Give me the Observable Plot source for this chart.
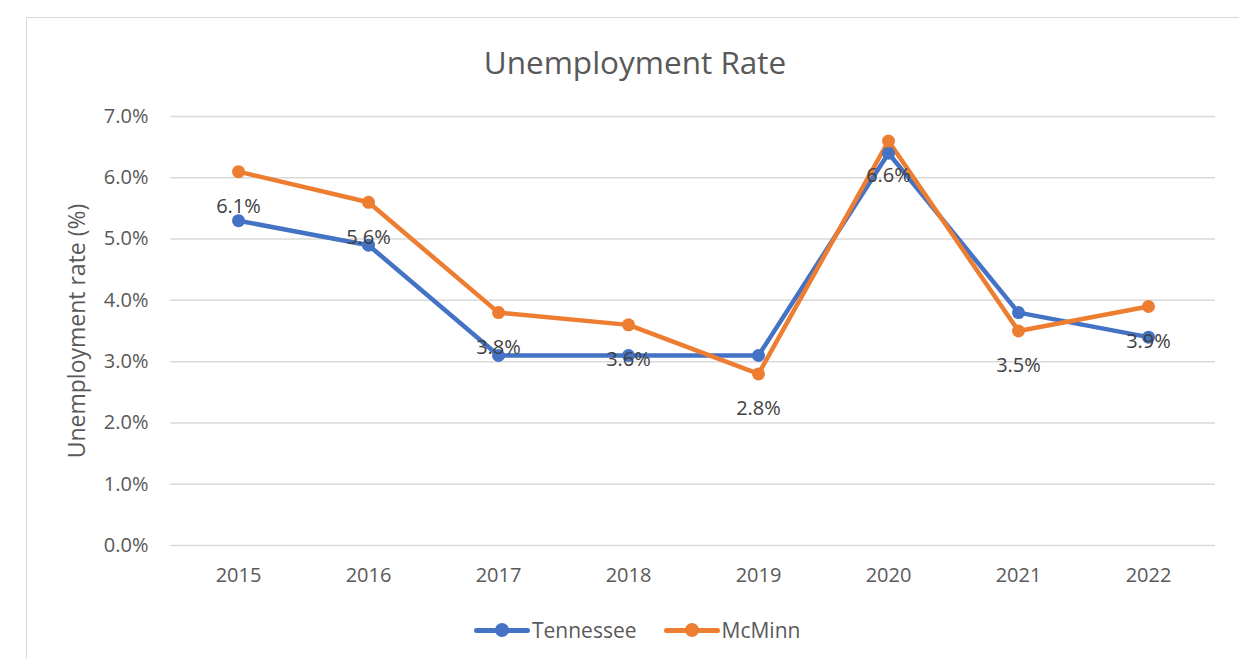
<!DOCTYPE html>
<html>
<head>
<meta charset="utf-8">
<script src="https://cdn.jsdelivr.net/npm/d3@7"></script>
<script src="https://cdn.jsdelivr.net/npm/@observablehq/plot@0.6"></script>
<style>
  body { margin: 0; background: #fff; }
  #wrap { position: relative; width: 1239px; height: 659px; overflow: hidden; font-family: "Open Sans", sans-serif; }
  #frame { position: absolute; left: 26px; top: 17px; width: 1300px; height: 700px; border: 1.5px solid #d9d9d9; box-sizing: border-box; }
  #title { position: absolute; left: 0; width: 1270px; top: 41px; text-align: center; font-size: 31.5px; line-height: 42px; color: #595959; }
  #chart { position: absolute; left: 0; top: 0; }
  #legend { position: absolute; top: 616px; left: 474px; display: flex; align-items: center; font-size: 21px; line-height: 28px; color: #595959; }
  .item { display: flex; align-items: center; margin-right: 27px; }
  .sw { position: relative; width: 56px; height: 14px; margin-right: 2px; }
  .sw .ln { position: absolute; left: 0; right: 0; top: 5px; height: 5px; border-radius: 3px; }
  .sw .dt { position: absolute; left: 21px; top: 0; width: 14px; height: 14px; border-radius: 50%; }
</style>
</head>
<body>
<div id="wrap">
  <div id="frame"></div>
  <div id="chart"></div>
  <div id="title">Unemployment Rate</div>
  <div id="legend"></div>
</div>
<script>
const years = ["2015", "2016", "2017", "2018", "2019", "2020", "2021", "2022"];
const tennessee = [5.3, 4.9, 3.1, 3.1, 3.1, 6.4, 3.8, 3.4];
const mcminn = [6.1, 5.6, 3.8, 3.6, 2.8, 6.6, 3.5, 3.9];
const seriesNames = ["Tennessee", "McMinn"];
const colors = ["#4472C4", "#ED7D31"];
const yTicks = [0, 1, 2, 3, 4, 5, 6, 7];

const data = [];
years.forEach((y, i) => {
  data.push({year: y, value: tennessee[i] / 100, series: "Tennessee"});
  data.push({year: y, value: mcminn[i] / 100, series: "McMinn"});
});
const mc = data.filter(d => d.series === "McMinn");

const plot = Plot.plot({
  width: 1239,
  height: 659,
  marginLeft: 170,
  marginRight: 24,
  marginTop: 116,
  marginBottom: 114,
  style: {fontFamily: "'Open Sans', sans-serif", fontSize: "20px", color: "#595959", background: "transparent"},
  x: {type: "point", domain: years, padding: 0.5, label: null},
  y: {domain: [0, 0.07], label: null},
  color: {domain: seriesNames, range: colors},
  marks: [
    Plot.gridY(yTicks.map(t => t / 100), {stroke: "#d9d9d9", strokeOpacity: 1, strokeWidth: 1.5}),
    Plot.line(data, {x: "year", y: "value", z: "series", stroke: "series", strokeWidth: 4.5, strokeLinejoin: "round", strokeLinecap: "round"}),
    Plot.dot(data, {x: "year", y: "value", fill: "series", r: 6.5}),
    Plot.text(mc, {x: "year", y: "value", text: d => d3.format(".1%")(d.value), dy: 35, fill: "#404040", fontSize: 20}),
    Plot.axisX({tickSize: 0, tickPadding: 22, fontSize: 20}),
    Plot.axisY({ticks: yTicks.map(t => t / 100), tickFormat: d3.format(".1%"), tickSize: 0, tickPadding: 22, fontSize: 20}),
    Plot.text(["Unemployment rate (%)"], {frameAnchor: "left", textAnchor: "middle", dx: -93, rotate: -90, fontSize: 23, fill: "#595959"})
  ]
});
document.getElementById("chart").appendChild(plot);

const legend = document.getElementById("legend");
seriesNames.forEach((name, i) => {
  const item = document.createElement("div");
  item.className = "item";
  item.innerHTML = `<div class="sw"><div class="ln" style="background:${colors[i]}"></div><div class="dt" style="background:${colors[i]}"></div></div><span>${name}</span>`;
  legend.appendChild(item);
});
</script>
</body>
</html>
